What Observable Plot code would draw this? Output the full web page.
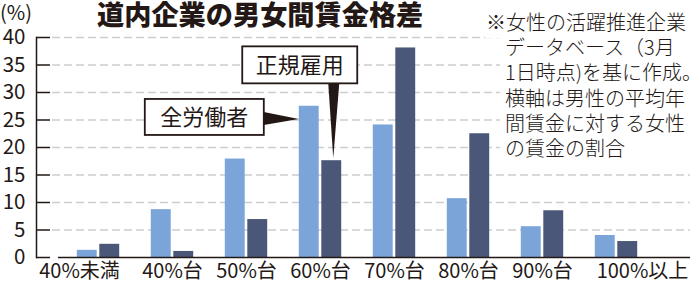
<!DOCTYPE html>
<html><head><meta charset="utf-8">
<script src="https://cdn.jsdelivr.net/npm/d3@7"></script>
<script src="https://cdn.jsdelivr.net/npm/@observablehq/plot@0.6"></script>
<style>body{margin:0;background:#fff} svg{display:block}</style>
</head><body><div id="chart"></div>
<script>
const categories = ["40%未満","40%台","50%台","60%台","70%台","80%台","90%台","100%以上"];
const allWorkers = [1.3, 8.7, 17.9, 27.5, 24.1, 10.7, 5.6, 4.0];
const regularWorkers = [2.4, 1.1, 6.9, 17.6, 38.1, 22.5, 8.5, 2.9];
const yTicks = [0,5,10,15,20,25,30,35,40];
const seriesNames = ["全労働者","正規雇用"];
const titleText = "道内企業の男女間賃金格差";
const unitText = "(%)";
const noteLines = ["※女性の活躍推進企業","データベース（3月","1日時点)を基に作成。","横軸は男性の平均年","間賃金に対する女性","の賃金の割合"];

const ink = "#231815";
const font = "'Noto Sans CJK JP', 'Noto Sans', sans-serif";
const W = 694, H = 284, mL = 36, mR = 4, mT = 37, mB = 27;

const dataAll = categories.map((c,i)=>({c, v: allWorkers[i]}));
const dataReg = categories.map((c,i)=>({c, v: regularWorkers[i]}));

const plot = Plot.plot({
  width: W, height: H,
  marginLeft: mL, marginRight: mR, marginTop: mT, marginBottom: mB,
  x: {domain: categories, range: [58.7, 655.6], padding: 0},
  y: {domain: [0, 40]},
  style: {fontFamily: font, fontSize: "20px", color: ink, background: "#fff"},
  marks: [
    Plot.ruleY(yTicks.filter(d=>d>0), {y: d=>d, stroke:"#cdcdcd", strokeWidth:1.3, strokeDasharray:"8 4", insetLeft:16}),
    Plot.barY(dataAll, {x:"c", y:"v", fill:"#7BA4D8", insetLeft:15.8, insetRight:38.3}),
    Plot.barY(dataReg, {x:"c", y:"v", fill:"#4A5778", insetLeft:38.3, insetRight:15.8}),
    Plot.ruleY([0], {stroke: ink, strokeWidth:1.6, insetLeft:22}),
    Plot.ruleY(yTicks, {y: d=>d, stroke: ink, strokeWidth:1.5, insetRight: W-mL-mR-14}),
    Plot.frame({anchor:"left", stroke: ink, strokeWidth:1.5}),
    Plot.axisY(yTicks, {tickSize:0, tickPadding:11, fontSize:20.5, label:null}),
    Plot.axisX({tickSize:0, tickPadding:6.5, fontSize:20, label:null})
  ]
});

const svg = d3.select(plot);
// shift first and last x labels like the reference
const xTexts = svg.selectAll("[aria-label='x-axis tick label'] text").nodes();
if (xTexts.length) {
  d3.select(xTexts[0]).attr("dx", -19);
  d3.select(xTexts[xTexts.length-1]).attr("dx", 26);
}

const xs = plot.scale("x"), ys = plot.scale("y");
const bw = xs.bandwidth;
const g60 = xs.apply("60%台");
const i60 = categories.indexOf("60%台");
const txt = (sel) => sel.attr("fill", ink).attr("font-family", font).attr("stroke","none");

// callout 1: 全労働者
const t1x = g60 + 15.8, t1y = ys.apply(allWorkers[i60] - 2.4);
const b1 = {x: t1x - 35 - 119, y: t1y - 20, w: 119, h: 36};
svg.append("polygon").attr("points", `${b1.x+b1.w},${t1y-7} ${b1.x+b1.w},${t1y+6} ${t1x},${t1y}`).attr("fill", ink);
svg.append("rect").attr("x", b1.x).attr("y", b1.y).attr("width", b1.w).attr("height", b1.h).attr("fill","#fff").attr("stroke", ink).attr("stroke-width", 1.8);
txt(svg.append("text")).attr("x", b1.x+b1.w/2).attr("y", b1.y+b1.h/2).attr("dy","0.36em").attr("text-anchor","middle").attr("font-size",22).text(seriesNames[0]);

// callout 2: 正規雇用
const t2x = g60 + 38.3 + (bw-38.3-15.8)/2 + 2, t2y = ys.apply(regularWorkers[i60]);
const b2 = {x: t2x - 91, y: ys.apply(38.3), w: 115, h: 37};
svg.append("polygon").attr("points", `${t2x-5},${b2.y+b2.h} ${t2x+6},${b2.y+b2.h} ${t2x},${t2y-2}`).attr("fill", ink);
svg.append("rect").attr("x", b2.x).attr("y", b2.y).attr("width", b2.w).attr("height", b2.h).attr("fill","#fff").attr("stroke", ink).attr("stroke-width", 1.8);
txt(svg.append("text")).attr("x", b2.x+b2.w/2).attr("y", b2.y+b2.h/2).attr("dy","0.36em").attr("text-anchor","middle").attr("font-size",22).text(seriesNames[1]);

// title
txt(svg.append("text")).attr("x", 97).attr("y", 24.5).attr("text-anchor","start").attr("font-size", 27.2).attr("font-weight", 900).text(titleText);
// unit
txt(svg.append("text")).attr("x", 0).attr("y", 20).attr("text-anchor","start").attr("font-size", 20).text(unitText);
// note background
svg.append("rect").attr("x", 485).attr("y", 8).attr("width", W-485).attr("height", 30).attr("fill", "#fff");
svg.append("rect").attr("x", 500).attr("y", 38).attr("width", W-500).attr("height", 122).attr("fill", "#fff");
noteLines.forEach((l,i)=>{
  txt(svg.append("text")).attr("text-anchor","start").attr("font-size", 20).attr("font-weight", 300)
    .attr("x", i===0 ? 486 : 505).attr("y", 30 + i*25.2).text(l);
});

document.getElementById("chart").appendChild(plot);
</script>
</body></html>
